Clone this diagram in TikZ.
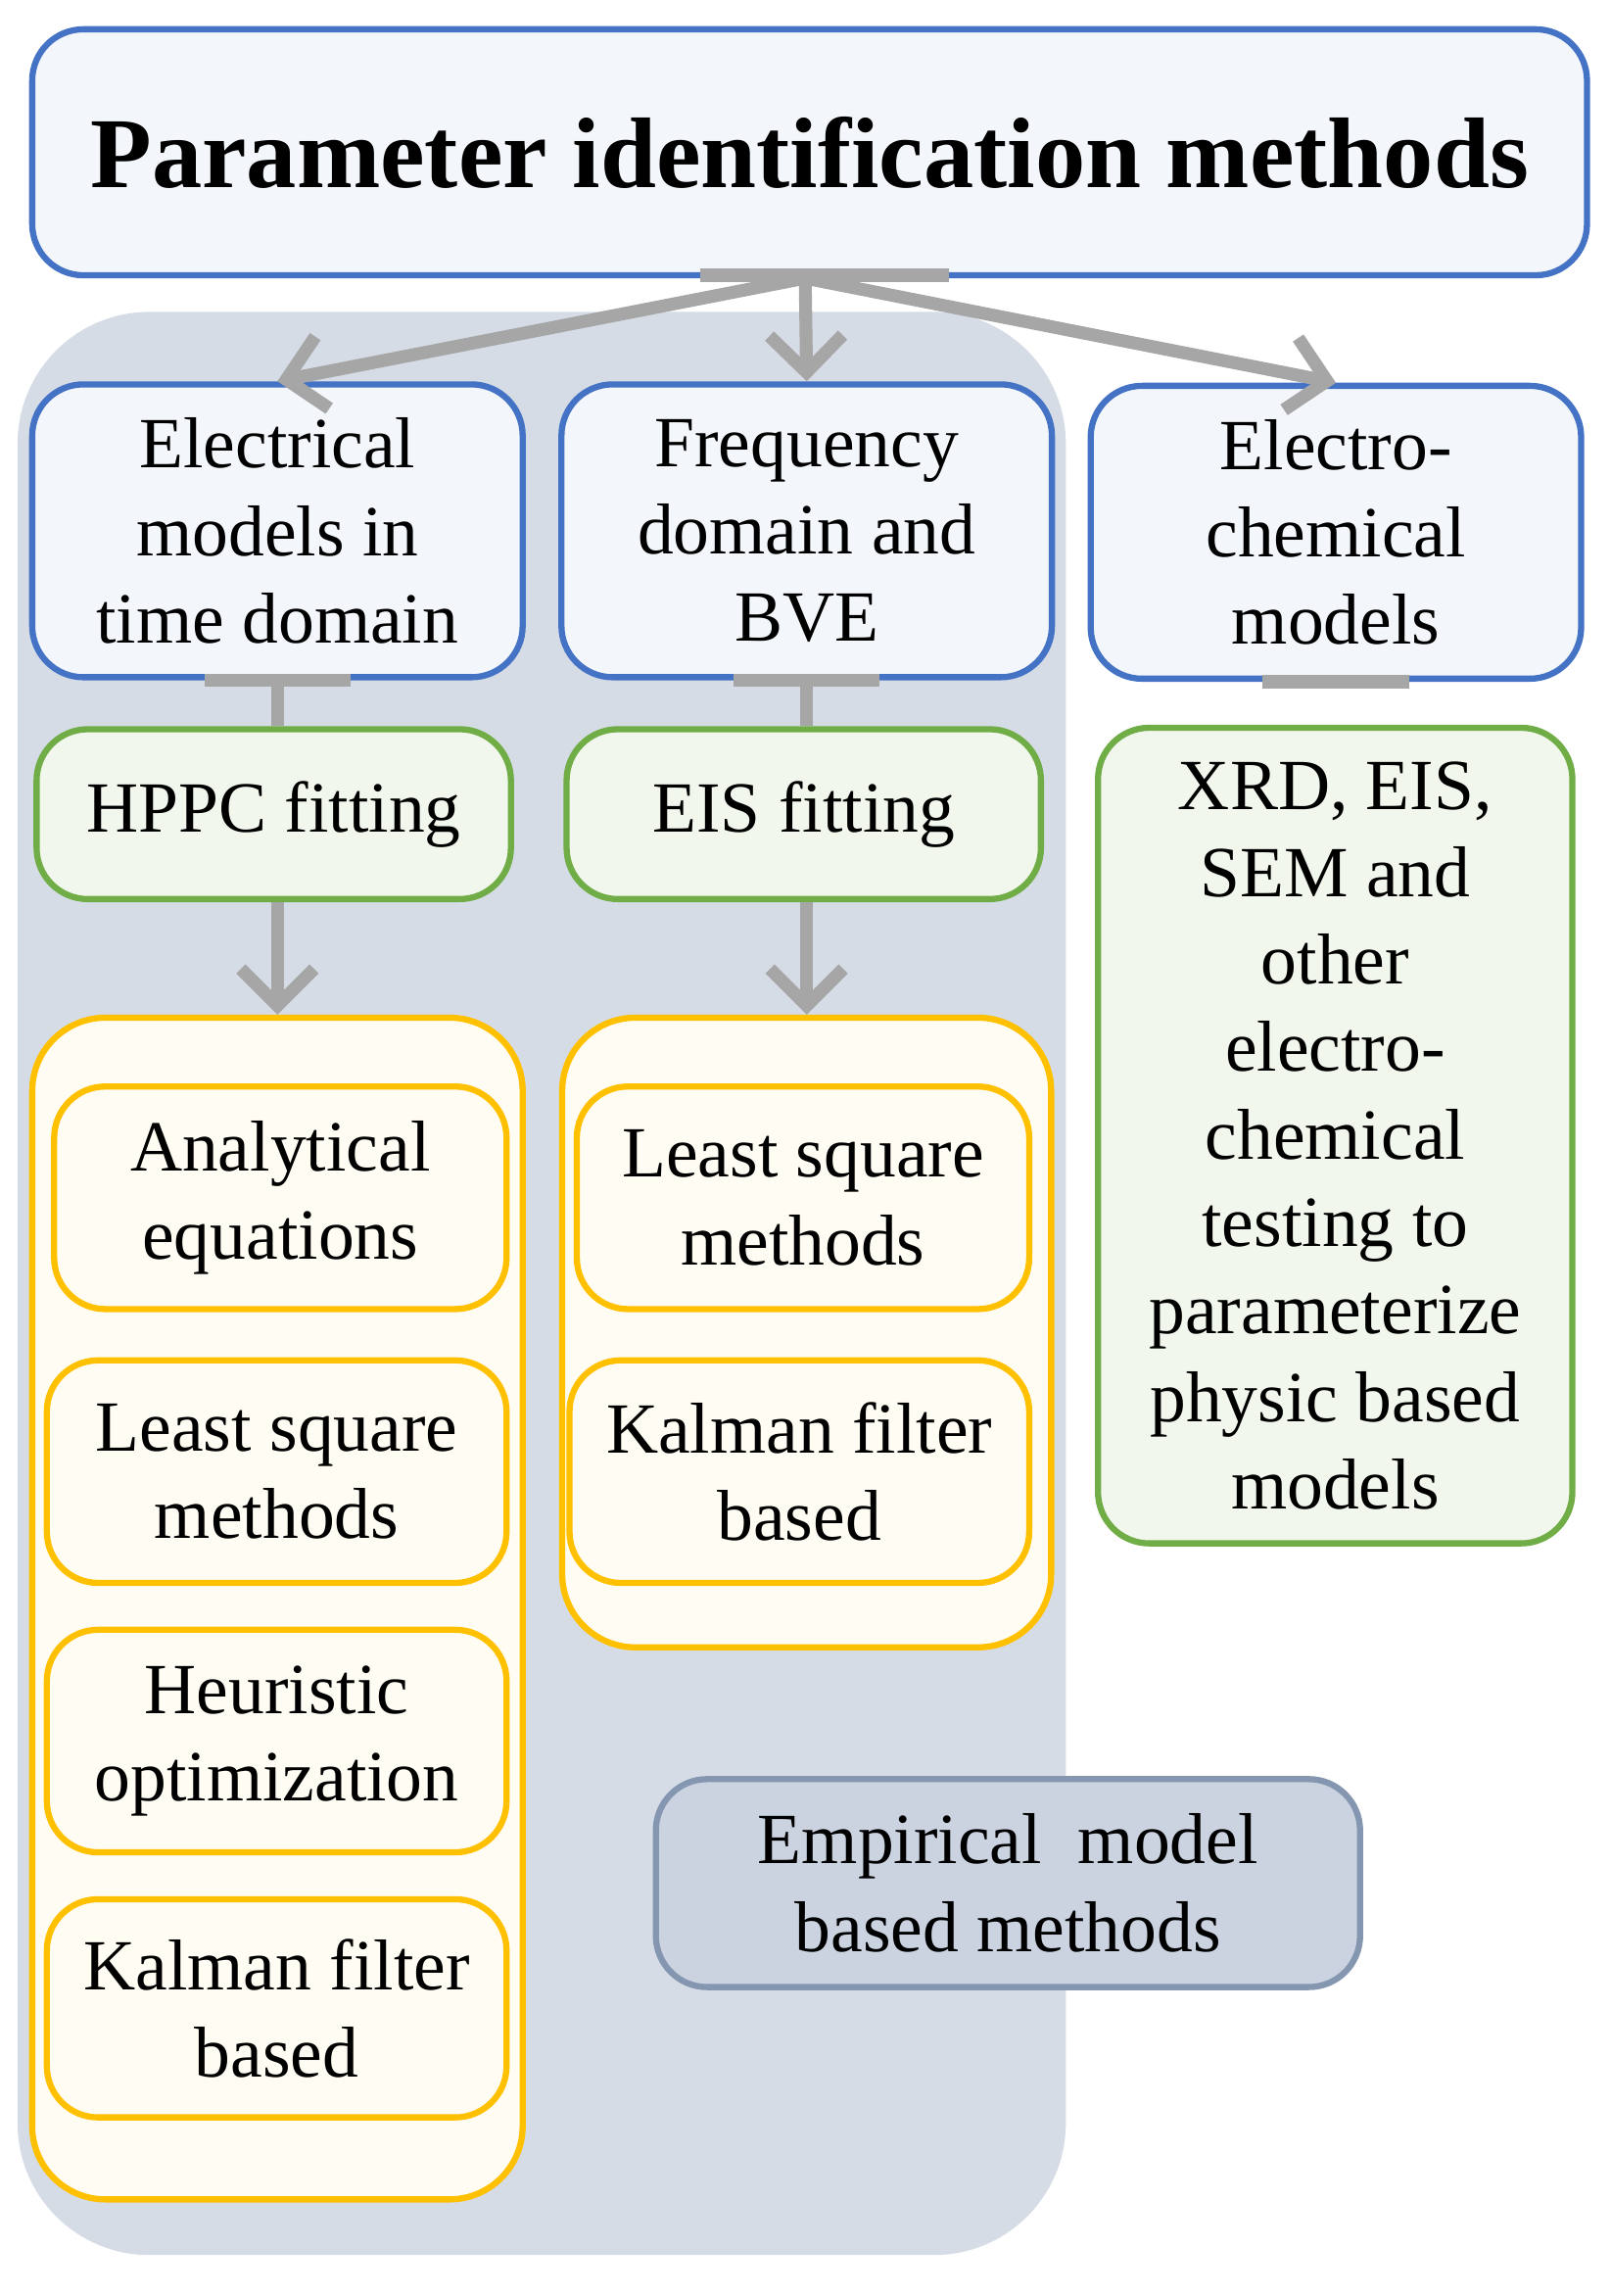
\documentclass[tikz,border=0pt]{standalone}
\usepackage{fontspec}
\setmainfont{Liberation Serif}
\usetikzlibrary{positioning,arrows.meta}
\definecolor{bluedge}{HTML}{4472C4}
\definecolor{bluefill}{HTML}{F3F7FB}
\definecolor{greenedge}{HTML}{70AD47}
\definecolor{greenfill}{HTML}{F2F7EE}
\definecolor{yellowedge}{HTML}{FFC000}
\definecolor{yellowfill}{HTML}{FFFCF3}
\definecolor{greyback}{HTML}{D5DCE6}
\definecolor{empedge}{HTML}{8496B0}
\definecolor{empfill}{HTML}{CBD3E0}
\definecolor{arrowgrey}{HTML}{A6A6A6}
\tikzset{
  box/.style={draw,line width=1.2pt,rounded corners=0.35cm,align=center,
    inner sep=0pt,font=\fontsize{14}{17}\selectfont},
  model/.style={box,draw=bluedge,fill=bluefill,minimum width=3.35cm,minimum height=2.0cm},
  fit step/.style={box,draw=greenedge,fill=greenfill,minimum width=3.24cm,minimum height=1.16cm},
  method/.style={box,draw=yellowedge,fill=yellowfill,minimum width=3.1cm,minimum height=1.52cm},
  link/.style={draw=arrowgrey,line width=2.5pt},
  arrow/.style={link,->,>={Straight Barb[length=2.5mm,width=5mm]}},
}
\begin{document}
\begin{tikzpicture}[x=1cm,y=-1cm]
  \useasboundingbox (0,0) rectangle (11,15.68);
  % background of the time and frequency branches
  \fill[greyback,rounded corners=0.9cm] (0.12,2.13) rectangle (7.28,15.40);

  \node[box,draw=bluedge,fill=bluefill,minimum width=10.62cm,minimum height=1.68cm,
    font=\fontsize{19.5}{24}\selectfont\bfseries] (title) at (5.53,1.04) {Parameter identification methods};

  \node[model] (elec) at (1.895,3.625) {Electrical\\models in\\time domain};
  \node[model] (freq) at (5.51,3.625) {Frequency\\domain and\\BVE};
  \node[model] (chem) at (9.125,3.635) {Electro-\\chemical\\models};

  \node[fit step] (hppc) at (1.87,5.56) {HPPC fitting};
  \node[fit step] (eis) at (5.49,5.56) {EIS fitting};
  \node[box,draw=greenedge,fill=greenfill,minimum width=3.24cm,minimum height=5.57cm] (phys)
    at (9.12,7.755) {XRD, EIS,\\SEM and\\other\\electro-\\chemical\\testing to\\parameterize\\physic based\\models};

  % method groups
  \node[box,draw=yellowedge,fill=yellowfill,minimum width=3.35cm,minimum height=8.07cm,
    rounded corners=0.5cm] (elecgrp) at (1.895,10.985) {};
  \node[box,draw=yellowedge,fill=yellowfill,minimum width=3.34cm,minimum height=4.3cm,
    rounded corners=0.5cm] (freqgrp) at (5.51,9.10) {};

  \node[method,minimum width=3.09cm] (analytic) at (1.915,8.18) {Analytical\\equations};
  \node[method,minimum width=3.14cm] (lsqa) at (1.89,10.05) {Least square\\methods};
  \node[method,minimum width=3.14cm] (heur) at (1.89,11.89) {Heuristic\\optimization};
  \node[method,minimum width=3.14cm,minimum height=1.49cm] (kalma) at (1.89,13.715) {Kalman filter\\based};
  \node[method,minimum width=3.09cm] (lsqb) at (5.485,8.18) {Least square\\methods};
  \node[method,minimum width=3.14cm] (kalmb) at (5.46,10.05) {Kalman filter\\based};

  \node[box,draw=empedge,fill=empfill,minimum width=4.81cm,minimum height=1.42cm]
    (empir) at (6.885,12.86) {Empirical\ \ model\\based methods};

  % connectors
  \draw[link] (4.78,1.88) -- (6.48,1.88);
  \draw[arrow] (5.5,1.9) -- (elec.north);
  \draw[arrow] (5.5,1.9) -- (freq.north);
  \draw[arrow] (5.5,1.9) -- (chem.north);
  \foreach \a/\b in {elec/hppc,freq/eis} {
    \draw[link] ([xshift=-0.5cm]\a.south) -- ([xshift=0.5cm]\a.south);
    \draw[link] (\a.south) -- (\a.south |- \b.north);
  }
  \draw[link] ([xshift=-0.5cm]chem.south) -- ([xshift=0.5cm]chem.south);
  \draw[arrow] (elecgrp.north |- hppc.south) -- (elecgrp.north);
  \draw[arrow] (freqgrp.north |- eis.south) -- (freqgrp.north);
\end{tikzpicture}
\end{document}
